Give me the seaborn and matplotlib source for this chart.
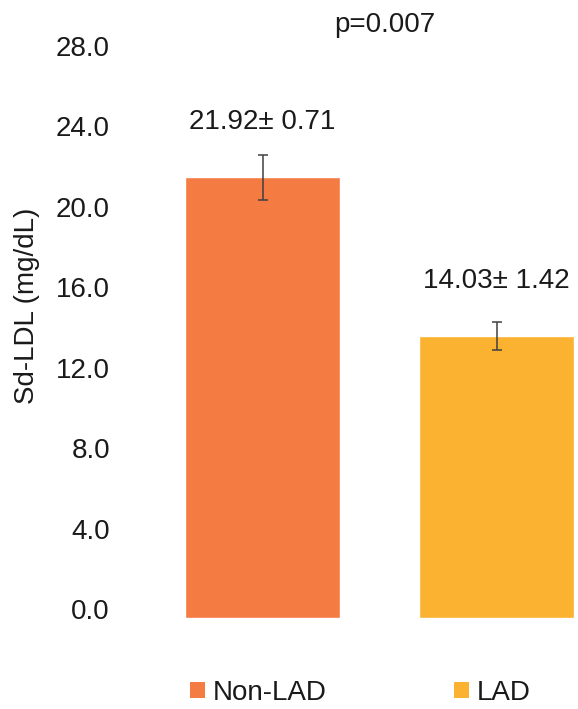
import matplotlib
matplotlib.use("Agg")
import matplotlib.pyplot as plt
import matplotlib.transforms as mtransforms
from matplotlib.patches import Patch
import seaborn as sns
import pandas as pd

groups = ["Non-LAD", "LAD"]
means = [21.92, 14.03]
errors = [1.12, 0.70]
value_labels = ["21.92± 0.71", "14.03± 1.42"]
p_label = "p=0.007"
y_ticks = [0, 4, 8, 12, 16, 20, 24, 28]
y_label = "Sd-LDL (mg/dL)"
colors = ["#F47B42", "#FBB230"]

sns.set_theme(style="white")
plt.rcParams["font.family"] = ["Liberation Sans", "DejaVu Sans"]

W, H = 578, 709
fig = plt.figure(figsize=(W / 100, H / 100), dpi=100)
ax = fig.add_axes([120 / W, (H - 618) / H, (W - 120) / W, (618 - 55) / H])

df = pd.DataFrame({"group": groups, "mean": means})
sns.barplot(data=df, x="group", y="mean", hue="group", palette=colors,
            width=0.66, ax=ax, legend=False, errorbar=None, saturation=1)
ax.errorbar(range(len(groups)), means, yerr=errors, fmt="none",
            ecolor="#404040", elinewidth=1.1, capsize=3.5, capthick=1.1)

ax.set_xlim(-0.609, 1.348)
ax.set_ylim(0, 28)
ax.set_yticks(y_ticks)
ax.set_yticklabels([f"{v:.1f}" for v in y_ticks])
ax.set_xticks([])
ax.set_xlabel("")
for s in ax.spines.values():
    s.set_visible(False)
ax.tick_params(axis="y", length=0, pad=7.2, labelsize=20, labelcolor="#1a1a1a")
off = mtransforms.ScaledTranslation(0, 9 / 100, fig.dpi_scale_trans)
for lab in ax.get_yticklabels():
    lab.set_transform(lab.get_transform() + off)

ax.set_ylabel(y_label, fontsize=20, color="#1a1a1a")
ax.yaxis.set_label_coords(-0.175, 0.554)

for i, (m, lab) in enumerate(zip(means, value_labels)):
    ax.annotate(lab, xy=(i, m), xytext=(0, 48 * 0.72), textcoords="offset points",
                ha="center", va="baseline", fontsize=20, color="#1a1a1a",
                annotation_clip=False)

fig.text(385 / W, 1 - 32 / H, p_label, ha="center", va="baseline",
         fontsize=20, color="#1a1a1a")

handles = [Patch(facecolor=c, edgecolor="none", label=g) for g, c in zip(groups, colors)]
fig.legend(handles=handles, loc="center left", bbox_to_anchor=(190 / W, 1 - 693 / H),
           ncol=2, frameon=False, fontsize=20, handlelength=0.53, handleheight=0.53,
           handletextpad=0.29, columnspacing=4.6, borderpad=0, borderaxespad=0,
           labelcolor="#1a1a1a")

fig.savefig("out.png", dpi=100)
